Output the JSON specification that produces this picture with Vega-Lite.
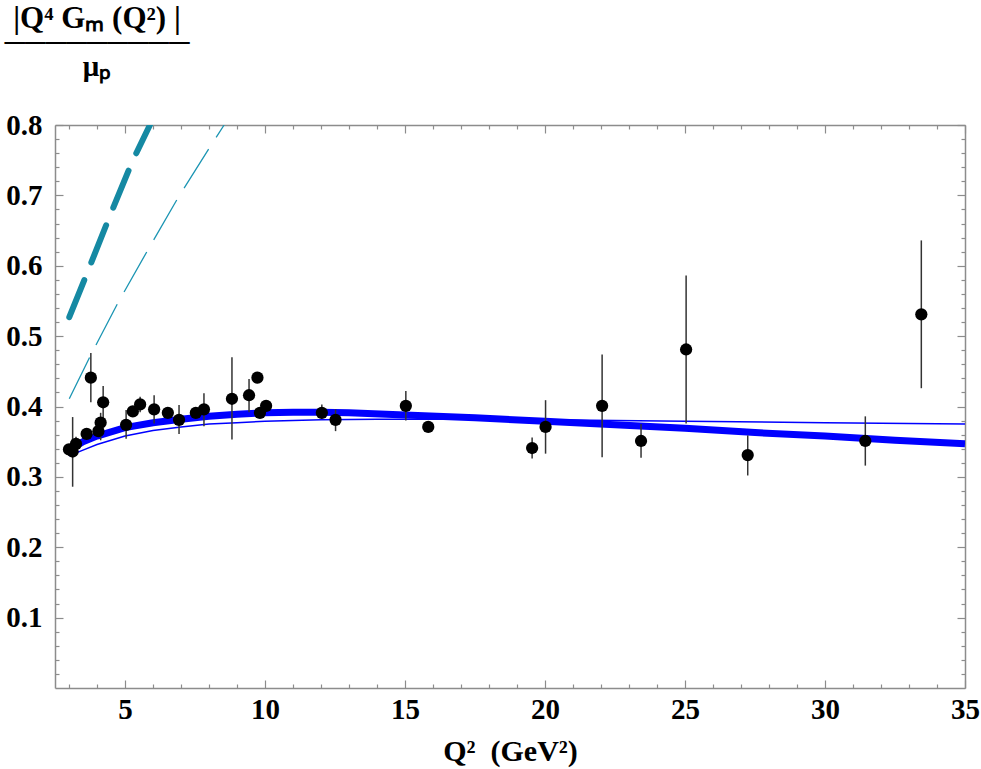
{
  "$schema": "https://vega.github.io/schema/vega-lite/v6.json",
  "width": 910,
  "height": 563,
  "autosize": {"type": "none"},
  "padding": {"left": 55, "top": 125, "right": 16, "bottom": 81},
  "background": "white",
  "config": {
    "view": {"stroke": null},
    "axis": {
      "domainColor": "#8c8c8c",
      "domainWidth": 1.5,
      "tickColor": "#8c8c8c",
      "tickWidth": 1.2,
      "grid": false,
      "labelFont": "Liberation Serif",
      "labelFontWeight": "bold",
      "labelFontSize": 29,
      "labelColor": "black",
      "titleFont": "Liberation Serif",
      "titleFontWeight": "bold",
      "titleFontSize": 30,
      "titleColor": "black"
    }
  },
  "title": {
    "text": "|Q⁴ Gₘ (Q²) |",
    "subtitle": ["─────────", "μₚ"],
    "anchor": "start",
    "frame": "group",
    "align": "center",
    "dx": 42,
    "offset": 28,
    "font": "Liberation Serif",
    "fontSize": 31,
    "fontWeight": "bold",
    "color": "black",
    "subtitleFont": "Liberation Serif",
    "subtitleFontSize": 29,
    "subtitleFontWeight": "bold",
    "subtitleColor": "black",
    "subtitleLineHeight": 24,
    "subtitlePadding": -6
  },
  "datasets": {
    "thick": [
      {"q2": 3.0, "v": 0.338}, {"q2": 3.5, "v": 0.350}, {"q2": 4.0, "v": 0.358},
      {"q2": 5.0, "v": 0.370}, {"q2": 6.0, "v": 0.377}, {"q2": 7.0, "v": 0.382},
      {"q2": 8.0, "v": 0.386}, {"q2": 9.0, "v": 0.389}, {"q2": 10.0, "v": 0.391},
      {"q2": 11.0, "v": 0.392}, {"q2": 12.0, "v": 0.392}, {"q2": 13.0, "v": 0.391},
      {"q2": 15.0, "v": 0.388}, {"q2": 17.5, "v": 0.384}, {"q2": 20.0, "v": 0.379},
      {"q2": 22.5, "v": 0.374}, {"q2": 25.0, "v": 0.369}, {"q2": 27.5, "v": 0.363},
      {"q2": 30.0, "v": 0.358}, {"q2": 32.5, "v": 0.352}, {"q2": 35.0, "v": 0.347}
    ],
    "thin": [
      {"q2": 3.0, "v": 0.330}, {"q2": 3.5, "v": 0.338}, {"q2": 4.0, "v": 0.346},
      {"q2": 5.0, "v": 0.358}, {"q2": 6.0, "v": 0.366}, {"q2": 7.0, "v": 0.371},
      {"q2": 8.0, "v": 0.375}, {"q2": 9.0, "v": 0.377}, {"q2": 10.0, "v": 0.379},
      {"q2": 12.0, "v": 0.381}, {"q2": 14.0, "v": 0.382}, {"q2": 17.0, "v": 0.382},
      {"q2": 20.0, "v": 0.381}, {"q2": 25.0, "v": 0.379}, {"q2": 30.0, "v": 0.377},
      {"q2": 35.0, "v": 0.375}
    ],
    "dashThick": [
      {"q2": 3.01, "v": 0.527}, {"q2": 3.63, "v": 0.588}, {"q2": 4.44, "v": 0.669},
      {"q2": 5.26, "v": 0.748}, {"q2": 5.89, "v": 0.800}
    ],
    "dashThin": [
      {"q2": 3.01, "v": 0.411}, {"q2": 3.75, "v": 0.471}, {"q2": 4.73, "v": 0.546},
      {"q2": 5.81, "v": 0.622}, {"q2": 6.90, "v": 0.697}, {"q2": 8.04, "v": 0.769},
      {"q2": 8.54, "v": 0.800}
    ],
    "pts": [
      {"q2": 3.00, "v": 0.339, "lo": 0.339, "hi": 0.339},
      {"q2": 3.13, "v": 0.336, "lo": 0.286, "hi": 0.385},
      {"q2": 3.25, "v": 0.347, "lo": 0.340, "hi": 0.357},
      {"q2": 3.63, "v": 0.361, "lo": 0.361, "hi": 0.361},
      {"q2": 3.78, "v": 0.441, "lo": 0.406, "hi": 0.476},
      {"q2": 4.05, "v": 0.365, "lo": 0.365, "hi": 0.365},
      {"q2": 4.13, "v": 0.377, "lo": 0.352, "hi": 0.391},
      {"q2": 4.22, "v": 0.406, "lo": 0.381, "hi": 0.429},
      {"q2": 5.04, "v": 0.374, "lo": 0.354, "hi": 0.395},
      {"q2": 5.28, "v": 0.393, "lo": 0.393, "hi": 0.393},
      {"q2": 5.54, "v": 0.403, "lo": 0.392, "hi": 0.414},
      {"q2": 6.04, "v": 0.396, "lo": 0.376, "hi": 0.416},
      {"q2": 6.53, "v": 0.391, "lo": 0.391, "hi": 0.391},
      {"q2": 6.93, "v": 0.381, "lo": 0.361, "hi": 0.402},
      {"q2": 7.53, "v": 0.391, "lo": 0.391, "hi": 0.391},
      {"q2": 7.82, "v": 0.396, "lo": 0.372, "hi": 0.419},
      {"q2": 8.82, "v": 0.411, "lo": 0.353, "hi": 0.470},
      {"q2": 9.43, "v": 0.416, "lo": 0.392, "hi": 0.439},
      {"q2": 9.73, "v": 0.441, "lo": 0.441, "hi": 0.441},
      {"q2": 9.82, "v": 0.391, "lo": 0.391, "hi": 0.391},
      {"q2": 10.04, "v": 0.401, "lo": 0.401, "hi": 0.401},
      {"q2": 12.03, "v": 0.391, "lo": 0.383, "hi": 0.403},
      {"q2": 12.52, "v": 0.381, "lo": 0.365, "hi": 0.396},
      {"q2": 15.03, "v": 0.401, "lo": 0.380, "hi": 0.422},
      {"q2": 15.83, "v": 0.371, "lo": 0.371, "hi": 0.371},
      {"q2": 19.54, "v": 0.341, "lo": 0.326, "hi": 0.356},
      {"q2": 20.02, "v": 0.371, "lo": 0.333, "hi": 0.409},
      {"q2": 22.04, "v": 0.401, "lo": 0.328, "hi": 0.474},
      {"q2": 23.43, "v": 0.351, "lo": 0.327, "hi": 0.375},
      {"q2": 25.04, "v": 0.481, "lo": 0.376, "hi": 0.586},
      {"q2": 27.24, "v": 0.331, "lo": 0.302, "hi": 0.359},
      {"q2": 31.44, "v": 0.351, "lo": 0.316, "hi": 0.386},
      {"q2": 33.44, "v": 0.531, "lo": 0.426, "hi": 0.636}
    ]
  },
  "resolve": {"axis": {"x": "independent", "y": "independent"}},
  "layer": [
    {
      "data": {"name": "thin"},
      "mark": {"type": "line", "color": "#0000ff", "strokeWidth": 1.5, "clip": true},
      "encoding": {
        "x": {
          "field": "q2", "type": "quantitative",
          "scale": {"domain": [2.5, 35], "nice": false, "zero": false},
          "axis": {
            "orient": "bottom",
            "title": "Q²\u00a0\u00a0(GeV²)",
            "titlePadding": 8,
            "values": [3,4,5,6,7,8,9,10,11,12,13,14,15,16,17,18,19,20,21,22,23,24,25,26,27,28,29,30,31,32,33,34,35],
            "tickSize": {"condition": {"test": "datum.value % 5 === 0", "value": -8}, "value": -4},
            "labelExpr": "datum.value % 5 === 0 ? datum.label : ''",
            "labelPadding": 15,
            "labelFlush": false,
            "labelOverlap": false
          }
        },
        "y": {
          "field": "v", "type": "quantitative",
          "scale": {"domain": [0, 0.8], "nice": false, "zero": false},
          "axis": {
            "orient": "left",
            "title": null,
            "values": [0.02,0.04,0.06,0.08,0.1,0.12,0.14,0.16,0.18,0.2,0.22,0.24,0.26,0.28,0.3,0.32,0.34,0.36,0.38,0.4,0.42,0.44,0.46,0.48,0.5,0.52,0.54,0.56,0.58,0.6,0.62,0.64,0.66,0.68,0.7,0.72,0.74,0.76,0.78,0.8],
            "tickSize": {"condition": {"test": "abs(datum.value*10 - round(datum.value*10)) < 0.001", "value": -8}, "value": -4},
            "labelExpr": "abs(datum.value*10 - round(datum.value*10)) < 0.001 ? format(datum.value, '.1f') : ''",
            "labelPadding": 21,
            "labelFlush": false,
            "labelOverlap": false
          }
        }
      }
    },
    {
      "data": {"name": "thick"},
      "mark": {"type": "line", "color": "#0000ff", "strokeWidth": 7, "clip": true},
      "encoding": {
        "x": {"field": "q2", "type": "quantitative", "axis": null},
        "y": {"field": "v", "type": "quantitative", "axis": null}
      }
    },
    {
      "data": {"name": "dashThick"},
      "mark": {"type": "line", "color": "#1589a3", "strokeWidth": 6, "strokeCap": "round", "strokeDash": [40, 19], "clip": true},
      "encoding": {
        "x": {"field": "q2", "type": "quantitative", "axis": null},
        "y": {"field": "v", "type": "quantitative", "axis": null}
      }
    },
    {
      "data": {"name": "dashThin"},
      "mark": {"type": "line", "color": "#1b95b3", "strokeWidth": 1.3, "strokeDash": [46, 14], "clip": true},
      "encoding": {
        "x": {"field": "q2", "type": "quantitative", "axis": null},
        "y": {"field": "v", "type": "quantitative", "axis": null}
      }
    },
    {
      "data": {"name": "pts"},
      "mark": {"type": "rule", "color": "#333333", "strokeWidth": 1.5},
      "encoding": {
        "x": {
          "field": "q2", "type": "quantitative",
          "axis": {
            "orient": "top", "title": null, "labels": false,
            "values": [3,4,5,6,7,8,9,10,11,12,13,14,15,16,17,18,19,20,21,22,23,24,25,26,27,28,29,30,31,32,33,34,35],
            "tickSize": {"condition": {"test": "datum.value % 5 === 0", "value": -8}, "value": -4}
          }
        },
        "y": {
          "field": "lo", "type": "quantitative",
          "axis": {
            "orient": "right", "title": null, "labels": false,
            "values": [0.02,0.04,0.06,0.08,0.1,0.12,0.14,0.16,0.18,0.2,0.22,0.24,0.26,0.28,0.3,0.32,0.34,0.36,0.38,0.4,0.42,0.44,0.46,0.48,0.5,0.52,0.54,0.56,0.58,0.6,0.62,0.64,0.66,0.68,0.7,0.72,0.74,0.76,0.78,0.8],
            "tickSize": {"condition": {"test": "abs(datum.value*10 - round(datum.value*10)) < 0.001", "value": -8}, "value": -4}
          }
        },
        "y2": {"field": "hi"}
      }
    },
    {
      "data": {"name": "pts"},
      "mark": {"type": "circle", "color": "black", "opacity": 1, "size": 150},
      "encoding": {
        "x": {"field": "q2", "type": "quantitative", "axis": null},
        "y": {"field": "v", "type": "quantitative", "axis": null}
      }
    }
  ]
}
